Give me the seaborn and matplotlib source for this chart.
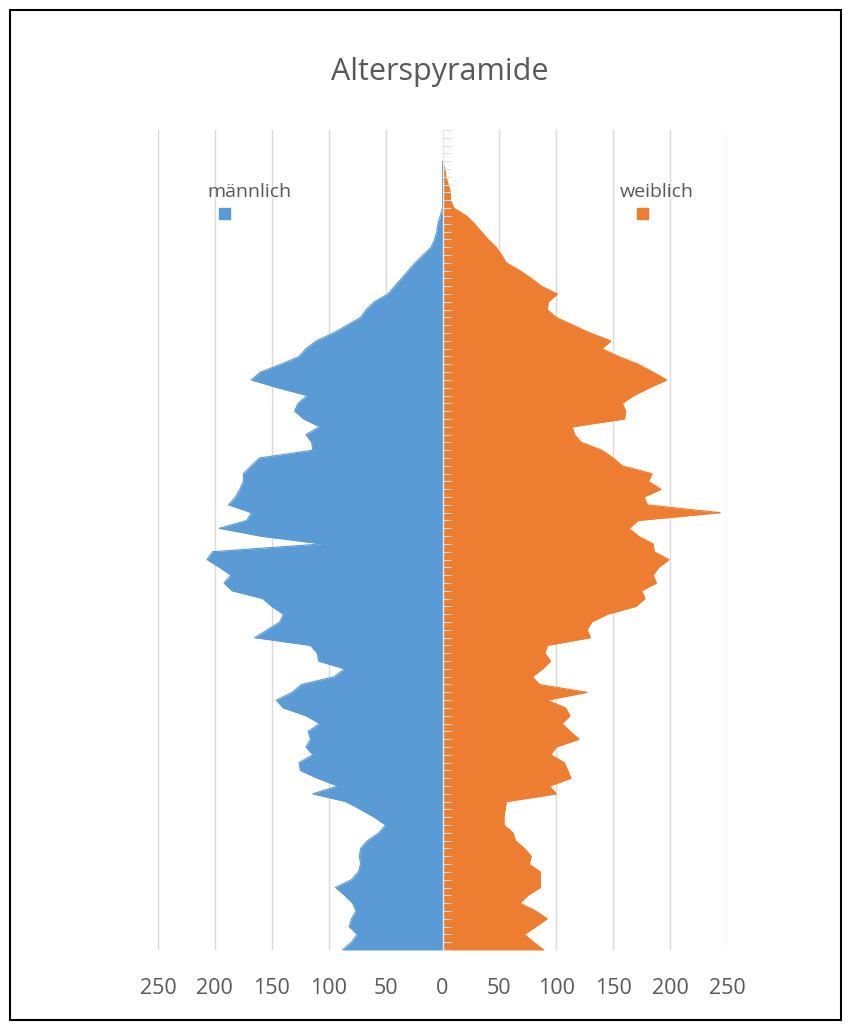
import numpy as np
import pandas as pd
import matplotlib
matplotlib.use("Agg")
import matplotlib.pyplot as plt
from matplotlib.patches import Rectangle
import seaborn as sns

# Population by single year of age (0 .. 101)
ages = list(range(0, 102))
maennlich = [
    88, 80, 75, 82, 80, 76, 79, 86, 94, 80,
    74, 72, 73, 72, 66, 56, 50, 60, 72, 85,
    114, 92, 110, 125, 126, 114, 120, 116, 118, 108,
    120, 140, 146, 132, 124, 95, 86, 109, 110, 116,
    165, 154, 143, 140, 150, 158, 185, 192, 186, 196,
    207, 202, 106, 160, 196, 172, 168, 188, 182, 178,
    175, 175, 168, 161, 114, 115, 120, 108, 122, 130,
    127, 119, 145, 168, 160, 142, 126, 120, 111, 96,
    84, 72, 67, 60, 48, 42, 36, 30, 24, 17,
    10, 7, 5, 4, 2, 0, 0, 0, 0, 0,
    0, 0,
]
weiblich = [
    89, 80, 72, 82, 92, 82, 68, 75, 86, 86,
    86, 76, 78, 72, 64, 62, 54, 54, 55, 56,
    100, 94, 113, 110, 107, 95, 100, 120, 112, 105,
    112, 108, 92, 127, 85, 79, 88, 95, 90, 92,
    130, 127, 131, 145, 170, 178, 175, 188, 185, 190,
    199, 186, 185, 172, 164, 172, 244, 180, 177, 192,
    181, 184, 158, 150, 140, 122, 116, 114, 160, 161,
    158, 168, 182, 197, 185, 172, 155, 140, 148, 130,
    115, 100, 92, 93, 101, 87, 78, 68, 56, 52,
    47, 40, 34, 28, 21, 10, 7, 7, 5, 3,
    2, 0,
]
x_ticks = [-250, -200, -150, -100, -50, 0, 50, 100, 150, 200, 250]
x_tick_labels = ["250", "200", "150", "100", "50", "0", "50", "100", "150", "200", "250"]

BLUE = "#5B9BD5"
ORANGE = "#ED7D31"
GREY_TEXT = "#595959"
GRID = "#D9D9D9"

sns.set_style("white")
plt.rcParams["font.family"] = ["Open Sans", "DejaVu Sans"]

df = pd.DataFrame({"Alter": ages,
                   "männlich": [-v for v in maennlich],
                   "weiblich": weiblich})

fig = plt.figure(figsize=(8.5, 10.28), dpi=100)
ax = fig.add_axes([158 / 850, 78 / 1028, (727 - 158) / 850, (950 - 130) / 1028])
ax.set_axisbelow(False)

# filled halves of the pyramid
ax.fill_betweenx(df["Alter"], df["männlich"], 0, color=BLUE, lw=0, zorder=2)
ax.fill_betweenx(df["Alter"], 0, df["weiblich"], color=ORANGE, lw=0, zorder=2)
sns.lineplot(data=df, x="männlich", y="Alter", orient="y", sort=False,
             color=BLUE, lw=0.8, ax=ax, zorder=2.2)
sns.lineplot(data=df, x="weiblich", y="Alter", orient="y", sort=False,
             color=ORANGE, lw=0.8, ax=ax, zorder=2.2)

ax.set_xlim(-250, 250)
ax.set_ylim(0, 105)
ax.set_xlabel("")
ax.set_ylabel("")

# vertical gridlines
ax.set_xticks(x_ticks)
ax.set_xticklabels(x_tick_labels, color=GREY_TEXT, fontsize=15.5)
ax.tick_params(axis="x", length=0, pad=20)
for xv in x_ticks:
    if xv != 0:
        ax.axvline(xv, color=GRID, lw=1, zorder=1)

# central category axis with one tick per year
for s in ["top", "right", "bottom"]:
    ax.spines[s].set_visible(False)
ax.spines["left"].set_position(("data", 0))
ax.spines["left"].set_color("#E8E8E8")
ax.spines["left"].set_linewidth(1)
ax.set_yticks(np.arange(0, 106, 1))
ax.set_yticklabels([])
ax.tick_params(axis="y", left=True, direction="in", length=6, width=0.8,
               color="#DDDDDD")

# title
fig.text(440 / 850, 1 - 72 / 1028, "Alterspyramide", ha="center", va="center",
         fontsize=22, color=GREY_TEXT)

# series labels with colour keys
fig.text(249 / 850, 1 - 192 / 1028, "männlich", ha="center", va="center",
         fontsize=14, color=GREY_TEXT)
fig.text(657 / 850, 1 - 192 / 1028, "weiblich", ha="center", va="center",
         fontsize=14, color=GREY_TEXT)
fig.patches.append(Rectangle((219 / 850, 1 - 219 / 1028), 11 / 850, 11 / 1028,
                             transform=fig.transFigure, color=BLUE))
fig.patches.append(Rectangle((637 / 850, 1 - 219 / 1028), 11 / 850, 11 / 1028,
                             transform=fig.transFigure, color=ORANGE))

# outer frame
fig.patches.append(Rectangle((10 / 850, 8 / 1028), 831 / 850, 1010 / 1028,
                             transform=fig.transFigure, fill=False,
                             edgecolor="black", lw=1.5))

fig.savefig("out.png", dpi=100)
